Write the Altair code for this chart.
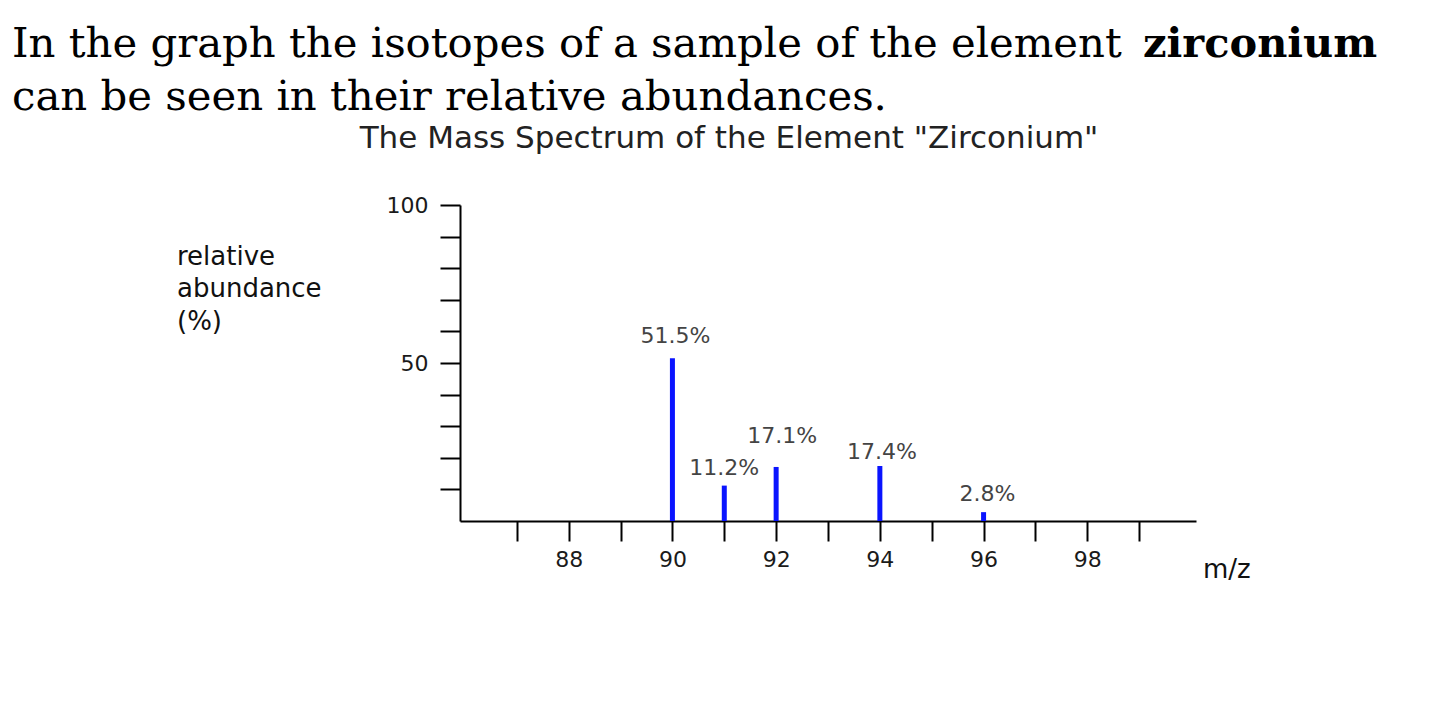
import altair as alt
import pandas as pd

# Data
mz = [90, 91, 92, 94, 96]
abundance = [51.5, 11.2, 17.1, 17.4, 2.8]
labels = ["51.5%", "11.2%", "17.1%", "17.4%", "2.8%"]
x_ticks = list(range(87, 100))
y_ticks = list(range(10, 101, 10))

header_line1 = "In the graph the isotopes of a sample of the element"
header_bold = "zirconium"
header_line2 = "can be seen in their relative abundances."
chart_title = 'The Mass Spectrum of the Element "Zirconium"'
y_title_lines = ["relative", "abundance", "(%)"]
x_title = "m/z"

# label offsets (style only)
label_dx = [3, 0, 6, 2, 4]
label_dy = [-15, -11, -24, -7, -11]

df = pd.DataFrame({"mz": mz, "abundance": abundance, "label": labels})

x_scale = alt.Scale(domain=[86, 100], nice=False, zero=False)
y_scale = alt.Scale(domain=[0, 100], nice=False)

axis_common = dict(grid=False, title=None, tickColor="black", domainColor="black",
                   tickWidth=2, domainWidth=2, tickSize=20, tickCount=40, format="d",
                   labelFont="DejaVu Sans", labelFontSize=22, labelColor="#1a1a1a")

bars = alt.Chart(df).mark_bar(size=5, color="#0a14ff").encode(
    x=alt.X("mz:Q", scale=x_scale,
            axis=alt.Axis(values=x_ticks,
                          labelExpr="datum.value % 2 == 0 ? datum.label : ''",
                          labelPadding=8, **axis_common)),
    y=alt.Y("abundance:Q", scale=y_scale,
            axis=alt.Axis(values=y_ticks,
                          labelExpr="(datum.value == 50 || datum.value == 100) ? datum.label : ''",
                          labelPadding=12, **axis_common)),
)

layers = [bars]
for i, m in enumerate(mz):
    layers.append(
        alt.Chart(df).transform_filter(alt.datum.mz == m)
        .mark_text(align="center", baseline="alphabetic", dx=label_dx[i], dy=label_dy[i],
                   font="DejaVu Sans", fontSize=22, color="#444")
        .encode(x=alt.X("mz:Q", scale=x_scale), y=alt.Y("abundance:Q", scale=y_scale),
                text="label:N")
    )

def free_text(txt, x, y, font, size, color="black", weight="normal", align="left"):
    return alt.Chart(pd.DataFrame({"t": [txt]})).mark_text(
        align=align, baseline="alphabetic", font=font, fontSize=size,
        fontWeight=weight, color=color
    ).encode(x=alt.value(x), y=alt.value(y), text="t:N")

layers.append(free_text(header_line1, -448, -148, "DejaVu Serif", 41.8))
layers.append(free_text(header_bold, 683, -148, "DejaVu Serif", 41.5, weight="bold"))
layers.append(free_text(header_line2, -448, -95, "DejaVu Serif", 41.8))
layers.append(free_text(chart_title, 269, -57, "DejaVu Sans", 31, color="#222", align="center"))
for j, (line, yy) in enumerate(zip(y_title_lines, [60, 92, 125])):
    layers.append(free_text(line, -283, yy, "DejaVu Sans", 26, color="#111"))
layers.append(free_text(x_title, 743, 373, "DejaVu Sans", 26, color="#111"))

chart = alt.layer(*layers).properties(
    width=736, height=316,
    autosize=alt.AutoSizeParams(type="none"),
    padding={"left": 452, "top": 197, "right": 236, "bottom": 188},
).configure_view(stroke=None)

chart.save("out.html", embed_options={"renderer": "svg", "actions": False})
